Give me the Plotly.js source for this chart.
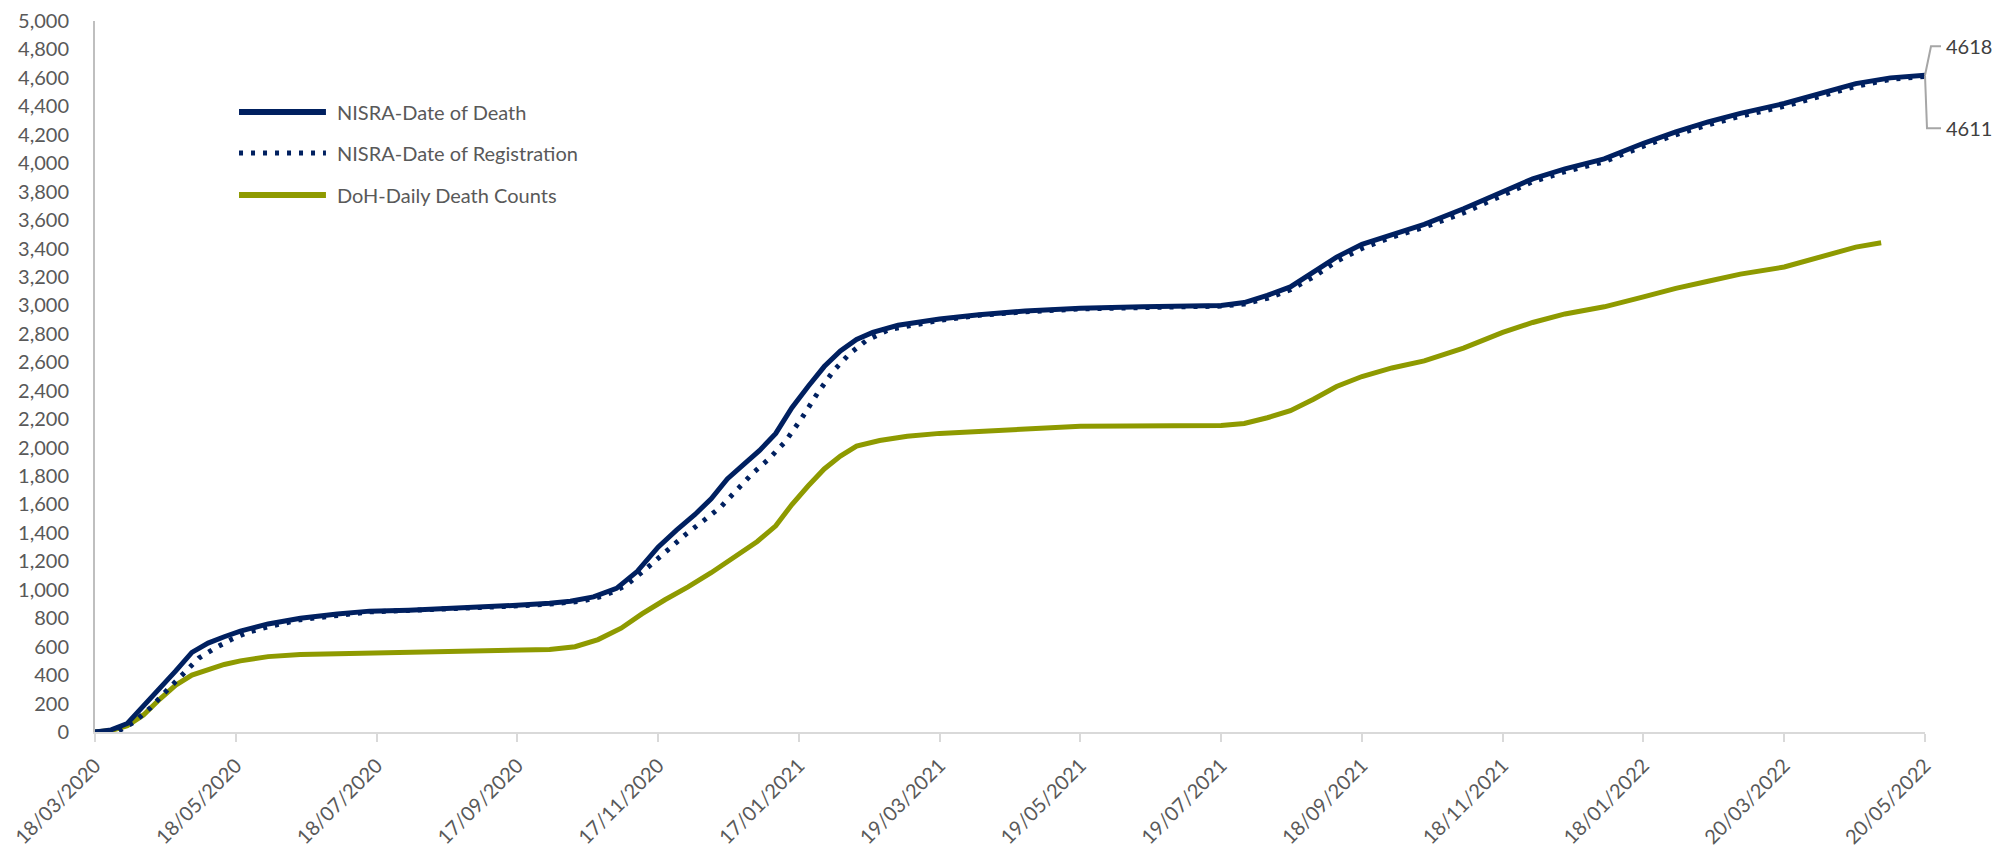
<!DOCTYPE html>
<html>
<head>
<meta charset="utf-8">
<script src="https://cdn.plot.ly/plotly-3.0.1.min.js"></script>
<style>
  html, body { margin: 0; padding: 0; background: #ffffff; }
  #chart { width: 2003px; height: 848px; }
</style>
</head>
<body>
<div id="chart"></div>
<script>
// ---------------- DATA ----------------
const seriesNames = ["NISRA-Date of Death", "NISRA-Date of Registration", "DoH-Daily Death Counts"];

const deathDates = ["2020-03-18","2020-03-25","2020-04-01","2020-04-08","2020-04-15","2020-04-22","2020-04-29","2020-05-06","2020-05-13","2020-05-20","2020-06-01","2020-06-15","2020-07-01","2020-07-15","2020-08-01","2020-08-15","2020-09-01","2020-09-15","2020-10-01","2020-10-10","2020-10-20","2020-10-30","2020-11-08","2020-11-17","2020-11-25","2020-12-03","2020-12-10","2020-12-17","2020-12-24","2020-12-31","2021-01-07","2021-01-14","2021-01-21","2021-01-28","2021-02-04","2021-02-11","2021-02-18","2021-03-01","2021-03-19","2021-04-05","2021-04-25","2021-05-19","2021-06-15","2021-07-19","2021-07-29","2021-08-08","2021-08-18","2021-08-28","2021-09-07","2021-09-18","2021-10-01","2021-10-15","2021-11-01","2021-11-18","2021-12-01","2021-12-15","2022-01-01","2022-01-18","2022-02-01","2022-02-15","2022-03-01","2022-03-20","2022-04-05","2022-04-20","2022-05-05","2022-05-20"];
const deathValues = [0,15,60,180,310,430,560,625,670,710,760,800,830,850,857,865,875,890,905,920,950,1010,1130,1300,1420,1530,1640,1780,1880,1980,2100,2280,2430,2570,2680,2760,2810,2860,2905,2935,2960,2980,2990,3000,3020,3070,3130,3230,3340,3430,3500,3570,3680,3800,3890,3960,4030,4140,4220,4290,4350,4420,4490,4560,4600,4618];

const regDates = ["2020-03-18","2020-03-28","2020-04-04","2020-04-11","2020-04-18","2020-04-25","2020-05-02","2020-05-09","2020-05-16","2020-05-23","2020-06-01","2020-06-15","2020-07-01","2020-07-15","2020-08-01","2020-09-01","2020-09-15","2020-10-01","2020-10-15","2020-10-25","2020-11-03","2020-11-12","2020-11-21","2020-11-29","2020-12-07","2020-12-14","2020-12-21","2020-12-28","2021-01-04","2021-01-11","2021-01-18","2021-01-25","2021-02-01","2021-02-08","2021-02-15","2021-02-25","2021-03-19","2021-04-05","2021-04-25","2021-05-19","2021-06-15","2021-07-19","2021-07-29","2021-08-08","2021-08-18","2021-08-28","2021-09-07","2021-09-18","2021-10-01","2021-10-15","2021-11-01","2021-11-18","2021-12-01","2021-12-15","2022-01-01","2022-01-18","2022-02-01","2022-02-15","2022-03-01","2022-03-20","2022-04-05","2022-04-20","2022-05-05","2022-05-20"];
const regValues = [0,5,70,170,290,400,520,590,650,700,740,790,820,845,855,870,885,900,920,960,1030,1150,1280,1390,1490,1580,1700,1820,1920,2040,2200,2380,2540,2660,2750,2830,2895,2930,2955,2975,2985,2995,3010,3050,3110,3200,3310,3400,3480,3550,3650,3780,3870,3940,4010,4120,4200,4270,4330,4400,4470,4540,4590,4611];

const dohDates = ["2020-03-18","2020-03-25","2020-04-01","2020-04-08","2020-04-15","2020-04-22","2020-04-29","2020-05-06","2020-05-13","2020-05-20","2020-06-01","2020-06-15","2020-07-01","2020-07-15","2020-08-15","2020-09-15","2020-10-01","2020-10-12","2020-10-22","2020-11-01","2020-11-10","2020-11-20","2020-11-30","2020-12-10","2020-12-20","2020-12-30","2021-01-07","2021-01-14","2021-01-21","2021-01-28","2021-02-04","2021-02-11","2021-02-21","2021-03-05","2021-03-19","2021-04-10","2021-05-01","2021-05-19","2021-07-19","2021-07-29","2021-08-08","2021-08-18","2021-08-28","2021-09-07","2021-09-18","2021-10-01","2021-10-15","2021-11-01","2021-11-18","2021-12-01","2021-12-15","2022-01-01","2022-01-18","2022-02-01","2022-02-15","2022-03-01","2022-03-20","2022-04-05","2022-04-20","2022-05-01"];
const dohValues = [0,10,45,120,230,330,400,440,475,500,530,545,550,560,565,575,580,600,650,730,830,930,1020,1120,1230,1340,1450,1600,1730,1850,1940,2010,2050,2080,2100,2120,2140,2150,2155,2170,2210,2260,2340,2430,2500,2560,2610,2700,2810,2880,2940,2990,3060,3120,3170,3220,3270,3340,3410,3440];

const tickDates = ["2020-03-18","2020-05-18","2020-07-18","2020-09-17","2020-11-17","2021-01-17","2021-03-19","2021-05-19","2021-07-19","2021-09-18","2021-11-18","2022-01-18","2022-03-20","2022-05-20"];
const tickLabels = ["18/03/2020","18/05/2020","18/07/2020","17/09/2020","17/11/2020","17/01/2021","19/03/2021","19/05/2021","19/07/2021","18/09/2021","18/11/2021","18/01/2022","20/03/2022","20/05/2022"];

const endLabels = [4618, 4611];
const yMax = 5000;

// ---------------- STYLE ----------------
const NAVY = "#002060";
const OLIVE = "#8e9a00";
const TXT = "#595959";
const FONT = "Lato, 'Open Sans', sans-serif";

const traces = [
  { x: dohDates, y: dohValues, name: seriesNames[2], type: "scatter", mode: "lines",
    line: { color: OLIVE, width: 5 }, showlegend: false },
  { x: regDates, y: regValues, name: seriesNames[1], type: "scatter", mode: "lines",
    line: { color: NAVY, width: 5, dash: "4px,8px" }, showlegend: false },
  { x: deathDates, y: deathValues, name: seriesNames[0], type: "scatter", mode: "lines",
    line: { color: NAVY, width: 5 }, showlegend: false }
];

// custom legend (paper coordinates)
const legY = [0.872, 0.8143, 0.7553];
const legStyles = [
  { color: NAVY, width: 6, dash: "solid" },
  { color: NAVY, width: 5, dash: "4px,8px" },
  { color: OLIVE, width: 6, dash: "solid" }
];
const shapes = [];
const annotations = [];
for (let i = 0; i < 3; i++) {
  shapes.push({ type: "line", xref: "paper", yref: "paper", x0: 0.0787, x1: 0.1262, y0: legY[i], y1: legY[i],
    line: legStyles[i] });
  annotations.push({ xref: "paper", yref: "paper", x: 0.1311, y: legY[i], xanchor: "left", yanchor: "middle",
    text: seriesNames[i], showarrow: false, font: { family: FONT, size: 20, color: TXT } });
}

// end-value leader lines (elbow), anchored at the last point (paper refs so they are not clipped)
const endDate = deathDates[deathDates.length - 1];
const anchorY = deathValues[deathValues.length - 1] / yMax;
shapes.push({ type: "path", xref: "paper", yref: "paper", xsizemode: "pixel", ysizemode: "pixel",
  xanchor: 1, yanchor: anchorY, path: "M0,0 L6,29 L16,29",
  line: { color: "#a6a6a6", width: 2 } });
shapes.push({ type: "path", xref: "paper", yref: "paper", xsizemode: "pixel", ysizemode: "pixel",
  xanchor: 1, yanchor: anchorY, path: "M0,0 L2,-53 L16,-53",
  line: { color: "#a6a6a6", width: 2 } });
annotations.push({ xref: "x", yref: "y", x: endDate, y: endLabels[0], xshift: 19, yshift: 29,
  xanchor: "left", yanchor: "middle", text: String(endLabels[0]), showarrow: false,
  font: { family: FONT, size: 20, color: "#404040" } });
annotations.push({ xref: "x", yref: "y", x: endDate, y: endLabels[0], xshift: 19, yshift: -53,
  xanchor: "left", yanchor: "middle", text: String(endLabels[1]), showarrow: false,
  font: { family: FONT, size: 20, color: "#404040" } });

const layout = {
  width: 2003, height: 848,
  margin: { l: 95, r: 78, t: 21, b: 116 },
  paper_bgcolor: "#ffffff", plot_bgcolor: "#ffffff",
  font: { family: FONT, size: 20, color: TXT },
  showlegend: false,
  xaxis: {
    type: "date",
    range: [tickDates[0], tickDates[tickDates.length - 1]],
    tickmode: "array", tickvals: tickDates, ticktext: tickLabels,
    tickangle: -45,
    showgrid: false, zeroline: false,
    showline: true, linecolor: "#d9d9d9", linewidth: 2,
    ticks: "outside", ticklen: 8, tickwidth: 2, tickcolor: "#d9d9d9",
    tickfont: { family: FONT, size: 20, color: TXT },
    ticklabelstandoff: 4
  },
  yaxis: {
    range: [0, yMax], dtick: 200, tick0: 0,
    tickformat: ",d",
    showgrid: false, zeroline: false,
    showline: true, linecolor: "#bfbfbf", linewidth: 2,
    ticks: "",
    tickfont: { family: FONT, size: 20, color: TXT },
    ticklabelstandoff: 20
  },
  shapes: shapes,
  annotations: annotations
};

Plotly.newPlot("chart", traces, layout, { displayModeBar: false, staticPlot: true });
</script>
</body>
</html>
